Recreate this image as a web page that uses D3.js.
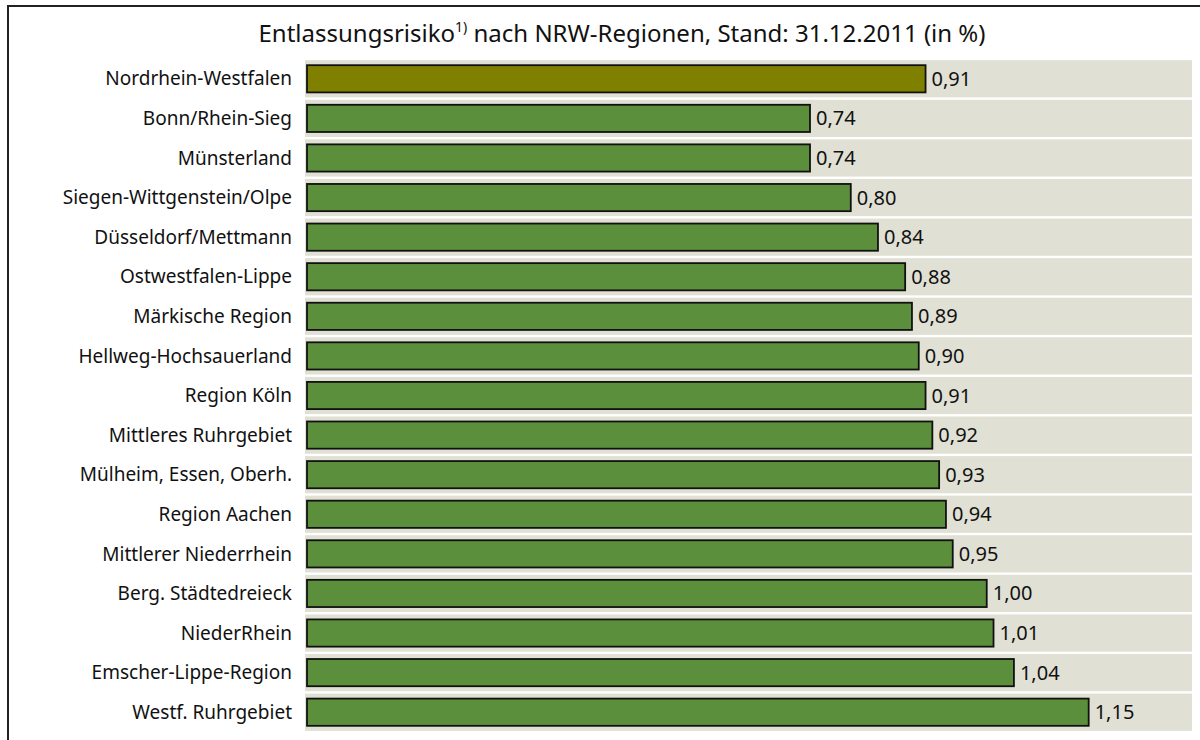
<!DOCTYPE html>
<html lang="de">
<head>
  <meta charset="UTF-8">
  <style>
    body { margin: 0; overflow: hidden; background: #fff; }
    svg { display: block; }
    text { font-family: "Noto Sans", "DejaVu Sans", sans-serif; fill: #111; }
    .band { fill: #e0e0d4; }
    .bar { stroke: #111; stroke-width: 1.8; }
  </style>
  <script src="https://cdnjs.cloudflare.com/ajax/libs/d3/7.8.5/d3.min.js"></script>
</head>
<body>
<svg id="chart"></svg>
<script>
  // regions, top to bottom
  const regions = [
    "Nordrhein-Westfalen", "Bonn/Rhein-Sieg", "Münsterland", "Siegen-Wittgenstein/Olpe",
    "Düsseldorf/Mettmann", "Ostwestfalen-Lippe", "Märkische Region", "Hellweg-Hochsauerland",
    "Region Köln", "Mittleres Ruhrgebiet", "Mülheim, Essen, Oberh.", "Region Aachen",
    "Mittlerer Niederrhein", "Berg. Städtedreieck", "NiederRhein", "Emscher-Lippe-Region",
    "Westf. Ruhrgebiet"
  ];
  const risk = [0.91, 0.74, 0.74, 0.80, 0.84, 0.88, 0.89, 0.90, 0.91, 0.92, 0.93, 0.94, 0.95, 1.00, 1.01, 1.04, 1.15];
  const highlight = "Nordrhein-Westfalen";

  const width = 1200, height = 740;
  const svg = d3.select("#chart").attr("width", width).attr("height", height);

  // frame
  svg.append("rect")
    .attr("x", 8).attr("y", 6)
    .attr("width", 1220).attr("height", 800)
    .attr("fill", "none").attr("stroke", "#222").attr("stroke-width", 2);

  // title
  const title = svg.append("text")
    .attr("x", 622).attr("y", 42)
    .attr("text-anchor", "middle")
    .style("font-size", "24px");
  title.append("tspan").text("Entlassungsrisiko");
  title.append("tspan").attr("dy", -10).style("font-size", "14px").text("1)");
  title.append("tspan").attr("dy", 10).text(" nach NRW-Regionen, Stand: 31.12.2011 (in %)");

  const x = d3.scaleLinear().domain([0, 1.302]).range([307, 1192]);
  const y = d3.scaleBand().domain(regions).range([59, 732]).paddingInner(0.06).paddingOuter(0.03);

  const fmt = v => d3.format(".2f")(v).replace(".", ",");

  const rows = svg.selectAll(".row")
    .data(regions.map((r, i) => ({ region: r, value: risk[i] })))
    .join("g")
    .attr("class", "row");

  rows.append("rect")
    .attr("class", "band")
    .attr("x", 305)
    .attr("y", d => y(d.region))
    .attr("width", x.range()[1] - 305)
    .attr("height", y.bandwidth());

  rows.append("rect")
    .attr("class", "bar")
    .attr("x", x(0))
    .attr("y", d => y(d.region) + 5)
    .attr("width", d => x(d.value) - x(0))
    .attr("height", y.bandwidth() - 10)
    .attr("fill", d => d.region === highlight ? "#808000" : "#5b8f3c");

  rows.append("text")
    .attr("x", 292)
    .attr("y", d => y(d.region) + y.bandwidth() / 2)
    .attr("dy", "0.35em")
    .attr("text-anchor", "end")
    .style("font-size", "19px")
    .text(d => d.region);

  rows.append("text")
    .attr("x", d => x(d.value) + 6)
    .attr("y", d => y(d.region) + y.bandwidth() / 2)
    .attr("dy", "0.35em")
    .style("font-size", "20px")
    .text(d => fmt(d.value));
</script>
</body>
</html>
